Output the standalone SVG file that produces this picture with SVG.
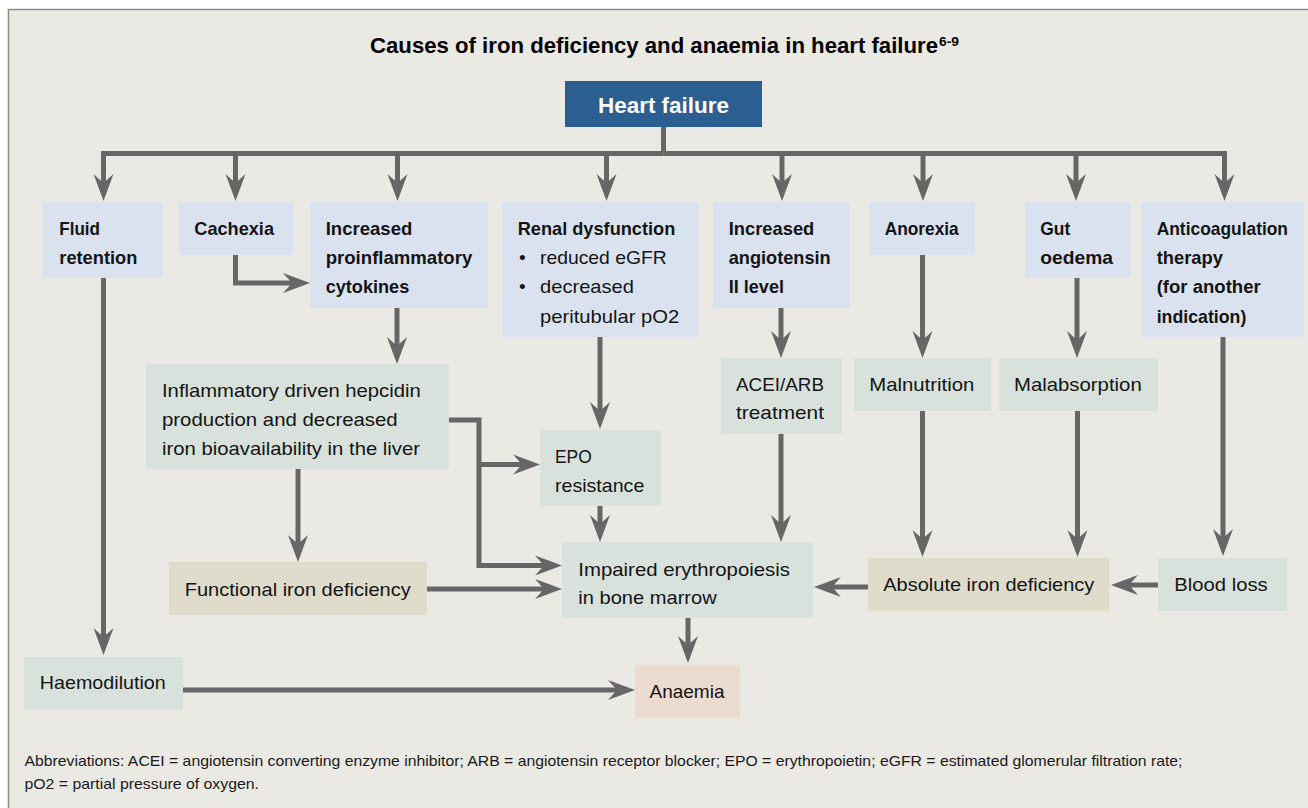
<svg xmlns="http://www.w3.org/2000/svg" width="1308" height="808" viewBox="0 0 1308 808">
<defs>
<style>
.bg{fill:#eae9e4;stroke:#8c8c8c;stroke-width:1.5}
.n1{fill:#dbe2ef}
.n2{fill:#d8e1db}
.n3{fill:#dfdccb}
.n4{fill:#ecdbcf}
.hf{fill:#2b5e91}
.b{font-family:"Liberation Sans",Arial,sans-serif;font-weight:bold;font-size:18.5px;fill:#141414}
.r{font-family:"Liberation Sans",Arial,sans-serif;font-size:19px;fill:#141414}
.t{font-family:"Liberation Sans",Arial,sans-serif;font-weight:bold;font-size:22px;fill:#000}
.ab{font-family:"Liberation Sans",Arial,sans-serif;font-size:14.5px;fill:#1a1a1a}
.c{fill:none;stroke:#666;stroke-width:5;stroke-linejoin:miter;marker-end:url(#ah)}
.cn{fill:none;stroke:#666;stroke-width:5;stroke-linejoin:miter}
</style>
<marker id="ah" markerUnits="userSpaceOnUse" orient="auto" markerWidth="40" markerHeight="30" viewBox="-15 -15 40 30" refX="0" refY="0" overflow="visible">
<path d="M16,0 L-11,-10 L-2,0 L-11,10 Z" fill="#666"/>
</marker>
</defs>
<rect x="0" y="0" width="1308" height="808" fill="#ffffff"/>
<rect class="bg" x="8.5" y="9.5" width="1320" height="820"/>
<g id="title">
<text class="t" x="370" y="53" textLength="568" lengthAdjust="spacingAndGlyphs">Causes of iron deficiency and anaemia in heart failure</text>
<text class="t" x="939" y="46" style="font-size:12.5px" textLength="20" lengthAdjust="spacingAndGlyphs">6-9</text>
</g>
<g id="connectors">
<path class="cn" d="M663.5,127 V153.5"/>
<path class="c" d="M663.5,153.5 H103.5 V185"/>
<path class="c" d="M663.5,153.5 H1224.5 V185"/>
<path class="c" d="M235.5,153.5 V185"/>
<path class="c" d="M397.5,153.5 V185"/>
<path class="c" d="M606.5,153.5 V185"/>
<path class="c" d="M782,153.5 V185"/>
<path class="c" d="M923,153.5 V185"/>
<path class="c" d="M1076,153.5 V185"/>
<path class="c" d="M235.5,255 V283 H294"/>
<path class="c" d="M103.5,278 V639"/>
<path class="c" d="M397,308 V348"/>
<path class="c" d="M449,420 H479 V565.5 H546"/>
<path class="c" d="M479,464.5 H524"/>
<path class="c" d="M298,469 V546"/>
<path class="c" d="M427,589 H546"/>
<path class="c" d="M600,337 V413"/>
<path class="c" d="M600,505.5 V526"/>
<path class="c" d="M781,308 V342"/>
<path class="c" d="M781,434 V526"/>
<path class="c" d="M922.5,255 V342"/>
<path class="c" d="M1077,278 V342"/>
<path class="c" d="M1223,337 V540"/>
<path class="c" d="M922.5,411 V541"/>
<path class="c" d="M1077.5,411 V541"/>
<path class="c" d="M868,587 H830"/>
<path class="c" d="M1158,585 H1127"/>
<path class="c" d="M688,618 V647"/>
<path class="c" d="M183,690 H619"/>
</g>
<g id="heart-failure">
<rect class="hf" x="565" y="81" width="197" height="46"/>
<text class="t" x="598" y="113" style="fill:#fff;font-size:22.5px" textLength="131" lengthAdjust="spacingAndGlyphs">Heart failure</text>
</g>
<g id="fluid-retention">
<rect class="n1" x="43" y="202" width="120" height="76"/>
<text class="b" x="59.3" y="235" textLength="40.7" lengthAdjust="spacingAndGlyphs">Fluid</text>
<text class="b" x="59.3" y="264" textLength="78" lengthAdjust="spacingAndGlyphs">retention</text>
</g>
<g id="cachexia">
<rect class="n1" x="179" y="202" width="114" height="53"/>
<text class="b" x="194.3" y="235" textLength="79.7" lengthAdjust="spacingAndGlyphs">Cachexia</text>
</g>
<g id="cytokines">
<rect class="n1" x="310" y="202" width="178" height="106"/>
<text class="b" x="325.7" y="235" textLength="86.6" lengthAdjust="spacingAndGlyphs">Increased</text>
<text class="b" x="325.7" y="264" textLength="146.6" lengthAdjust="spacingAndGlyphs">proinflammatory</text>
<text class="b" x="325.7" y="293.3" textLength="83.6" lengthAdjust="spacingAndGlyphs">cytokines</text>
</g>
<g id="renal">
<rect class="n1" x="502" y="202" width="197" height="135"/>
<text class="b" x="517.7" y="235" textLength="157.6" lengthAdjust="spacingAndGlyphs">Renal dysfunction</text>
<text class="r" x="519" y="264">•</text>
<text class="r" x="540" y="264" textLength="126.7" lengthAdjust="spacingAndGlyphs">reduced eGFR</text>
<text class="r" x="519" y="293.3">•</text>
<text class="r" x="540" y="293.3" textLength="94" lengthAdjust="spacingAndGlyphs">decreased</text>
<text class="r" x="540" y="322.7" textLength="139.3" lengthAdjust="spacingAndGlyphs">peritubular pO2</text>
</g>
<g id="angiotensin">
<rect class="n1" x="713" y="202" width="137" height="106"/>
<text class="b" x="728.7" y="235" textLength="85.6" lengthAdjust="spacingAndGlyphs">Increased</text>
<text class="b" x="728.7" y="264" textLength="102" lengthAdjust="spacingAndGlyphs">angiotensin</text>
<text class="b" x="728.7" y="293.3" textLength="55.3" lengthAdjust="spacingAndGlyphs">II level</text>
</g>
<g id="anorexia">
<rect class="n1" x="869" y="202" width="106" height="53"/>
<text class="b" x="884.7" y="235" textLength="74" lengthAdjust="spacingAndGlyphs">Anorexia</text>
</g>
<g id="gut-oedema">
<rect class="n1" x="1025" y="202" width="106" height="76"/>
<text class="b" x="1040.3" y="235" textLength="30" lengthAdjust="spacingAndGlyphs">Gut</text>
<text class="b" x="1040.3" y="264" textLength="72.7" lengthAdjust="spacingAndGlyphs">oedema</text>
</g>
<g id="anticoagulation">
<rect class="n1" x="1141" y="202" width="163" height="135"/>
<text class="b" x="1156.7" y="235" textLength="131.3" lengthAdjust="spacingAndGlyphs">Anticoagulation</text>
<text class="b" x="1156.7" y="264" textLength="66.3" lengthAdjust="spacingAndGlyphs">therapy</text>
<text class="b" x="1156.7" y="293.3" textLength="104" lengthAdjust="spacingAndGlyphs">(for another</text>
<text class="b" x="1156.7" y="322.7" textLength="89.6" lengthAdjust="spacingAndGlyphs">indication)</text>
</g>
<g id="hepcidin">
<rect class="n2" x="146" y="364" width="303" height="105"/>
<text class="r" x="162" y="396.7" textLength="258.7" lengthAdjust="spacingAndGlyphs">Inflammatory driven hepcidin</text>
<text class="r" x="162" y="426" textLength="235.7" lengthAdjust="spacingAndGlyphs">production and decreased</text>
<text class="r" x="162" y="455" textLength="258" lengthAdjust="spacingAndGlyphs">iron bioavailability in the liver</text>
</g>
<g id="epo-resistance">
<rect class="n2" x="540" y="430" width="121" height="76"/>
<text class="r" x="555" y="463.3" textLength="36.7" lengthAdjust="spacingAndGlyphs">EPO</text>
<text class="r" x="555" y="491.7" textLength="89.3" lengthAdjust="spacingAndGlyphs">resistance</text>
</g>
<g id="acei-arb">
<rect class="n2" x="721" y="358" width="121" height="76"/>
<text class="r" x="736" y="391" textLength="88" lengthAdjust="spacingAndGlyphs">ACEI/ARB</text>
<text class="r" x="736" y="419.3" textLength="88" lengthAdjust="spacingAndGlyphs">treatment</text>
</g>
<g id="malnutrition">
<rect class="n2" x="854" y="358" width="137" height="53"/>
<text class="r" x="869.3" y="390.7" textLength="105" lengthAdjust="spacingAndGlyphs">Malnutrition</text>
</g>
<g id="malabsorption">
<rect class="n2" x="999" y="358" width="159" height="53"/>
<text class="r" x="1014" y="390.7" textLength="127.7" lengthAdjust="spacingAndGlyphs">Malabsorption</text>
</g>
<g id="functional-iron-deficiency">
<rect class="n3" x="169" y="562" width="258" height="53"/>
<text class="r" x="184.7" y="596" textLength="226" lengthAdjust="spacingAndGlyphs">Functional iron deficiency</text>
</g>
<g id="impaired-erythropoiesis">
<rect class="n2" x="562" y="542" width="251" height="76"/>
<text class="r" x="578.3" y="576" textLength="211.7" lengthAdjust="spacingAndGlyphs">Impaired erythropoiesis</text>
<text class="r" x="578.3" y="604.3" textLength="138.4" lengthAdjust="spacingAndGlyphs">in bone marrow</text>
</g>
<g id="absolute-iron-deficiency">
<rect class="n3" x="868" y="558" width="241" height="53"/>
<text class="r" x="883.3" y="590.7" textLength="211" lengthAdjust="spacingAndGlyphs">Absolute iron deficiency</text>
</g>
<g id="blood-loss">
<rect class="n2" x="1158" y="558" width="129" height="53"/>
<text class="r" x="1174.3" y="590.7" textLength="93.4" lengthAdjust="spacingAndGlyphs">Blood loss</text>
</g>
<g id="haemodilution">
<rect class="n2" x="24" y="657" width="159" height="53"/>
<text class="r" x="39.8" y="689.3" textLength="126" lengthAdjust="spacingAndGlyphs">Haemodilution</text>
</g>
<g id="anaemia">
<rect class="n4" x="635" y="665" width="105" height="53"/>
<text class="r" x="649.5" y="697.7" textLength="75" lengthAdjust="spacingAndGlyphs">Anaemia</text>
</g>
<g id="footnote">
<text class="ab" x="24.5" y="766" textLength="1158" lengthAdjust="spacingAndGlyphs">Abbreviations: ACEI = angiotensin converting enzyme inhibitor; ARB = angiotensin receptor blocker; EPO = erythropoietin; eGFR = estimated glomerular filtration rate;</text>
<text class="ab" x="24.5" y="788.5" textLength="234.5" lengthAdjust="spacingAndGlyphs">pO2 = partial pressure of oxygen.</text>
</g>
</svg>
